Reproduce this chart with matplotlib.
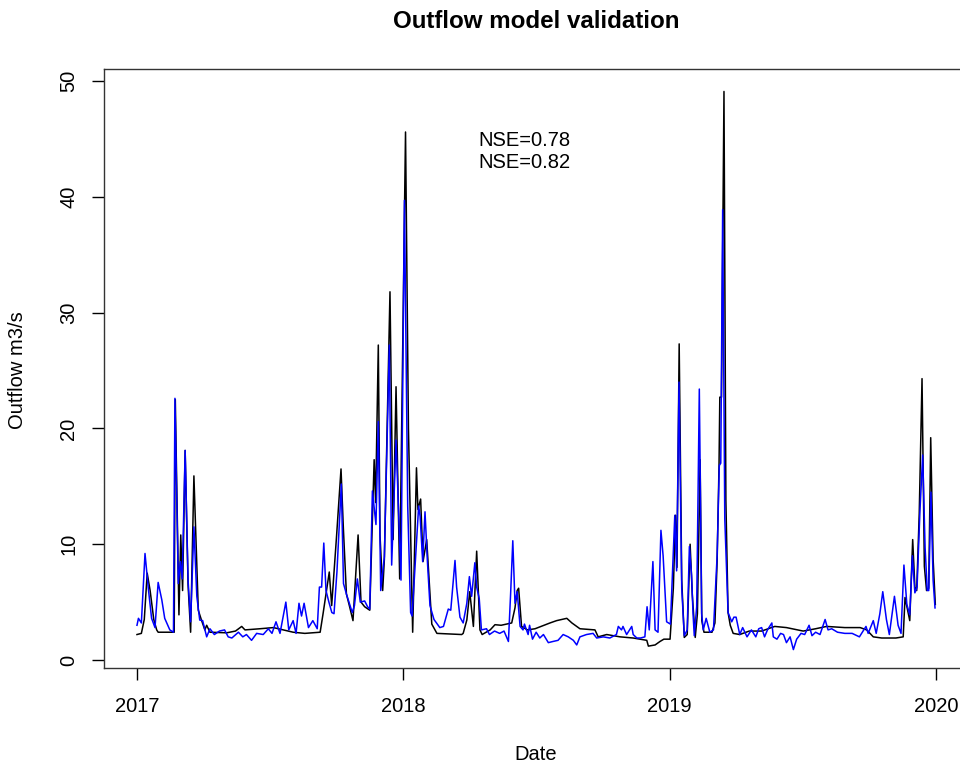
import matplotlib
matplotlib.use('Agg')
import matplotlib.pyplot as plt
import numpy as np
import pandas as pd

plt.rcParams['font.family'] = ['Liberation Sans', 'DejaVu Sans']

# observed outflow (black), days since 2017-01-01
obs_day = [0, 6, 10, 14, 18, 23, 27, 29, 51, 52.5, 57.5, 60, 62.5, 66, 70, 73.5, 78, 84, 88.6, 93,
           95.5, 100, 123, 135, 143.5, 148, 168.6, 187, 200.5, 214, 230, 251, 255, 263.5, 266.8,
           273.6, 279.6, 282.8, 287, 291, 296, 303, 307, 312, 319, 325, 327, 330.7, 333, 336.7,
           339, 346.7, 351, 355, 360, 368, 372, 377.8, 383, 385, 388.7, 392, 397, 404, 411, 445,
           447, 452, 456, 461, 465.5, 470, 473, 484, 490.6, 499, 513.5, 518, 521, 523, 527, 535,
           545.5, 566, 575, 589, 596, 607, 627.6, 632, 643.7, 662, 680, 698.6, 700.8, 710, 716.7,
           722, 730.5, 735, 738, 740, 743, 746.5, 750, 754, 758, 761, 765, 768, 771.7, 774, 777,
           788, 792, 795, 797.6, 798.7, 801, 804.4, 807, 810, 813, 817, 826, 839, 856, 874, 890,
           913, 930, 945, 970, 991, 1000, 1009, 1020.5, 1040, 1050, 1052.5, 1059, 1063, 1066,
           1068.5, 1072, 1075.8, 1079, 1082, 1085, 1087.7, 1091, 1094]
obs_val = [2.2, 2.3, 3.5, 7.5, 6.0, 3.5, 2.6, 2.4, 2.4, 22.5, 3.9, 10.8, 6.0, 18.1, 6.5, 2.4, 15.9,
           4.3, 3.4, 2.6, 3.0, 2.4, 2.35, 2.5, 2.9, 2.6, 2.7, 2.8, 2.6, 2.4, 2.3, 2.4, 4.0, 7.6,
           4.7, 10.8, 16.5, 11.4, 5.7, 4.7, 3.4, 10.8, 5.0, 4.6, 4.3, 17.3, 13.6, 27.2, 10.8, 6.0,
           8.7, 31.8, 10.4, 23.6, 7.0, 45.6, 20.0, 2.4, 16.6, 13.0, 13.9, 8.5, 10.4, 3.1, 2.3, 2.2,
           2.3, 3.45, 5.9, 2.9, 9.4, 2.6, 2.2, 2.6, 3.05, 3.0, 3.2, 4.5, 6.0, 6.2, 2.9, 2.6,
           2.7, 3.2, 3.4, 3.6, 3.2, 2.7, 2.6, 2.0, 2.2, 2.0, 1.9, 1.7, 1.2, 1.3, 1.6,
           1.8, 1.8, 6.2, 12.5, 8.0, 27.3, 6.9, 1.95, 2.2, 10.0, 5.6, 1.95, 4.0, 17.3, 3.4, 2.4,
           2.4, 3.2, 8.5, 16.8, 22.7, 22.7, 49.1, 13.8, 4.1, 3.0, 2.3, 2.2, 2.5, 2.5, 2.9, 2.8,
           2.5, 2.7, 2.9, 2.8, 2.8, 2.6, 2.0, 1.9, 1.9, 2.0, 5.4, 3.4, 10.4, 6.3,
           6.0, 12.7, 24.3, 8.1, 6.0, 6.2, 19.2, 8.7, 4.8]

# simulated outflow (blue)
sim_day = [0, 2, 6, 11, 15.5, 20, 24.7, 29, 34, 38, 45, 50, 52, 56.6, 59.5, 62, 66, 70, 73.5, 78,
           82, 86, 90, 95.5, 100, 106, 113, 120, 125, 130, 139, 145, 150, 157, 164, 173, 180, 185,
           190.5, 196, 204, 208, 214, 218, 222, 225.5, 229, 235, 241, 247, 250, 253, 256, 259,
           263, 267, 270, 274, 280, 283, 287, 291, 295, 298, 302, 306, 312, 316, 319, 322.6,
           327.5, 330.7, 334, 339, 345.8, 349, 355, 361.8, 366.5, 368.5, 371, 375, 377, 383, 386,
           388, 391.5, 394.7, 398, 401.5, 407, 415, 420, 426.6, 430, 435.8, 438, 442.6, 447, 452,
           455.5, 458.6, 463, 465.5, 469, 472, 479, 483, 490, 497, 503, 509, 512, 515, 518, 521,
           525, 529, 531, 536, 538, 542, 547, 552, 557, 563.7, 570, 577, 584, 591, 598, 602.6,
           607, 616, 625, 630, 639, 648, 657, 659.6, 664, 666, 671, 678, 680, 685, 690, 696, 699,
           702, 707, 710, 714, 718, 721, 725.8, 731, 735, 737, 739.5, 742.8, 746.5, 750, 754, 757,
           760, 762, 763.7, 767, 770.6, 773.8, 776, 780, 785, 790, 795, 798, 800, 802.6, 805.5,
           810, 815, 818, 821, 826, 830, 836, 842, 848, 852, 856, 860, 864, 870, 872, 877, 882,
           886, 890, 895, 899.5, 904, 910, 915, 921, 925, 930, 936, 943, 947, 952, 960, 970, 980,
           990, 999, 1002, 1009, 1013, 1018, 1022, 1027, 1031, 1038, 1043, 1047, 1051, 1055, 1059,
           1062.6, 1066, 1069, 1073, 1076.7, 1080, 1083, 1085, 1088, 1091, 1093.6]
sim_val = [3.0, 3.6, 3.2, 9.2, 6.2, 3.6, 2.8, 6.7, 5.2, 3.6, 2.6, 2.4, 22.6, 6.6, 8.5, 7.0, 18.1,
           6.9, 3.3, 11.5, 5.5, 3.45, 3.4, 2.0, 2.7, 2.2, 2.5, 2.6, 2.0, 1.9, 2.4, 2.0, 2.2, 1.7,
           2.3, 2.2, 2.7, 2.3, 3.3, 2.3, 5.0, 2.6, 3.4, 2.3, 4.9, 3.8, 4.9, 2.8, 3.4, 2.7, 6.3,
           6.3, 10.1, 6.0, 5.0, 4.1, 4.0, 7.6, 15.2, 6.6, 5.7, 4.9, 4.1, 4.7, 7.0, 5.0, 5.1, 4.6,
           4.4, 14.6, 11.7, 20.6, 6.0, 8.9, 27.2, 8.2, 19.0, 6.9, 39.7, 28.0, 13.3, 4.1, 3.8, 10.1,
           13.3, 12.4, 8.5, 12.8, 8.5, 4.7, 3.5, 2.8, 2.9, 4.4, 4.3, 8.6, 6.3, 3.7, 3.2, 4.9, 7.2,
           5.5, 8.4, 6.3, 5.3, 2.6, 2.7, 2.2, 2.5, 2.3, 2.5, 1.6, 5.7, 10.3, 4.9, 5.9, 2.9, 2.6,
           3.1, 2.2, 3.0, 1.8, 2.4, 1.9, 2.2, 1.5, 1.6, 1.7, 2.2, 2.0, 1.7, 1.3, 2.0, 2.2, 2.3,
           1.9, 2.0, 1.9, 2.2, 2.9, 2.6, 2.9, 2.2, 2.9, 2.2, 1.9, 1.9, 2.0, 4.6, 2.6, 8.5, 2.6,
           2.4, 11.2, 9.0, 3.3, 3.1, 9.3, 12.5, 7.7, 24.0, 6.2, 2.1, 2.6, 9.8, 7.3, 4.0, 2.1,
           4.6, 23.4, 4.0, 2.6, 3.6, 2.4, 2.6, 9.0, 16.8, 17.0, 38.9, 12.2, 4.1, 3.3, 3.7, 3.7,
           2.2, 2.8, 2.0, 2.6, 2.0, 2.7, 2.8, 2.0, 2.6, 3.2, 2.0, 1.8, 2.3, 2.2, 1.5, 2.0, 0.9,
           1.8, 2.3, 2.2, 3.0, 2.1, 2.4, 2.2, 3.5, 2.6, 2.7, 2.4, 2.3, 2.3, 2.0, 2.9, 2.3, 3.4,
           2.3, 4.0, 5.9, 3.5, 2.2, 5.5, 3.0, 2.3, 8.2, 4.8, 3.9, 9.0, 5.8, 6.3, 12.95, 17.7,
           9.7, 6.0, 6.0, 14.5, 6.9, 4.5]

year_ticks = ['2017', '2018', '2019', '2020']
nse_labels = ['NSE=0.78', 'NSE=0.82']

start = pd.Timestamp('2017-01-01')
obs_dates = start + pd.to_timedelta(obs_day, unit='D')
sim_dates = start + pd.to_timedelta(sim_day, unit='D')

fig = plt.figure(figsize=(9.6, 7.64), dpi=100)
ax = fig.add_axes([104/960, 96/764, 864/960, 599/764])

# observed first, simulated on top
ax.plot(obs_dates, obs_val, color='black', lw=1.1)
ax.plot(sim_dates, sim_val, color='#0000FF', lw=1.1)

ax.set_xlim(start - pd.Timedelta(days=45.2), start + pd.Timedelta(days=1138.8))
ax.set_ylim(-0.69, 51.04)

ax.set_xticks([pd.Timestamp(y + '-01-01') for y in year_ticks])
ax.set_xticklabels(year_ticks)
ax.set_yticks([0, 10, 20, 30, 40, 50])
ax.set_yticklabels(['0', '10', '20', '30', '40', '50'], rotation=90, va='center')
ax.tick_params(axis='both', direction='out', length=8.6, width=1, labelsize=14.5)
ax.tick_params(axis='x', pad=12)
ax.tick_params(axis='y', pad=10)
for s in ax.spines.values():
    s.set_linewidth(1.0)
    s.set_color('#333333')

ax.text((478-104)/864, (668-140)/599, nse_labels[0], transform=ax.transAxes,
        fontsize=14.5, ha='left', va='center')
ax.text((478-104)/864, (668-162)/599, nse_labels[1], transform=ax.transAxes,
        fontsize=14.5, ha='left', va='center')

fig.text(536/960, 1 - 21/764, 'Outflow model validation', fontsize=17.4,
         fontweight='bold', ha='center', va='center')
fig.text(536/960, 1 - 754/764, 'Date', fontsize=14.5, ha='center', va='center')
fig.text(18/960, 1 - 370/764, 'Outflow m3/s', fontsize=14.5, rotation=90,
         ha='center', va='center')

fig.savefig('out.png', dpi=100)
